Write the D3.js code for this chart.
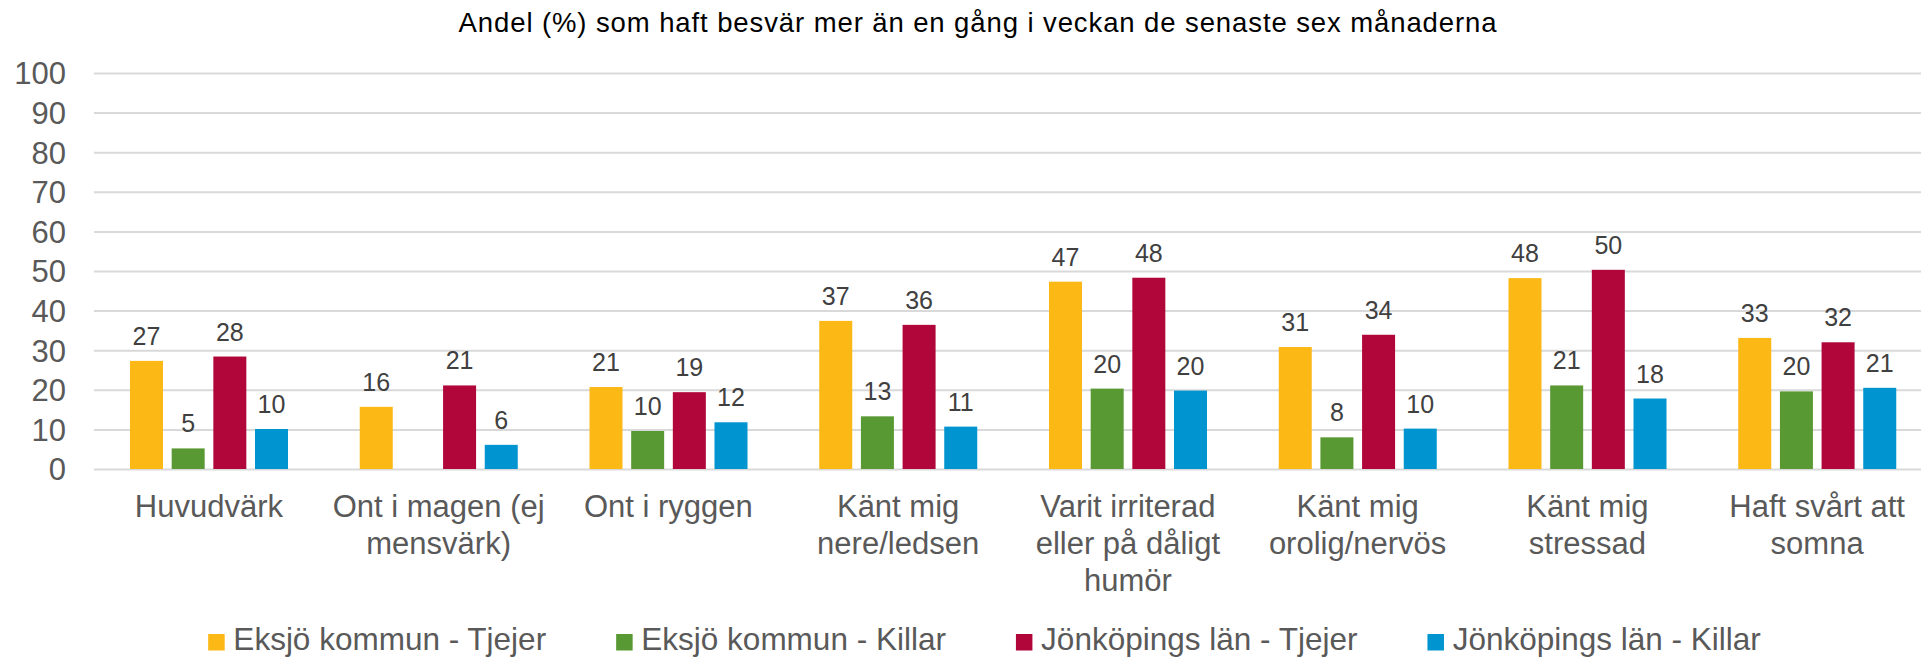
<!DOCTYPE html>
<html><head><meta charset="utf-8">
<script src="https://cdn.jsdelivr.net/npm/d3@7"></script>
<style>html,body{margin:0;padding:0;background:#fff;overflow:hidden} svg{display:block}</style>
</head><body>
<svg id="chart" width="1921" height="658"></svg>
<script>
const title = "Andel (%) som haft besvär mer än en gång i veckan de senaste sex månaderna";
const categories = ["Huvudvärk", "Ont i magen (ej\nmensvärk)", "Ont i ryggen", "Känt mig\nnere/ledsen",
  "Varit irriterad\neller på dåligt\nhumör", "Känt mig\norolig/nervös", "Känt mig\nstressad", "Haft svårt att\nsomna"];
const seriesNames = ["Eksjö kommun - Tjejer", "Eksjö kommun - Killar", "Jönköpings län - Tjejer", "Jönköpings län - Killar"];
const eksjoTjejer = [27.3, 15.7, 20.7, 37.4, 47.3, 30.8, 48.2, 33.1];
const eksjoKillar = [5.2, null, 9.6, 13.3, 20.3, 8.0, 21.1, 19.6];
const lanTjejer   = [28.4, 21.1, 19.4, 36.4, 48.3, 33.9, 50.3, 32.0];
const lanKillar   = [10.1, 6.1, 11.8, 10.7, 19.8, 10.2, 17.8, 20.5];
const yTicks = [0, 10, 20, 30, 40, 50, 60, 70, 80, 90, 100];

const seriesValues = [eksjoTjejer, eksjoKillar, lanTjejer, lanKillar];
const colors = ["#FCB814", "#599934", "#B0063A", "#0094D0"];
const FONT = "'Liberation Sans', Arial, sans-serif";

const svg = d3.select("#chart");
const plotLeft = 94, plotRight = 1932, plotTop = 73, plotBottom = 469;

const x0 = d3.scaleBand().domain(categories).range([plotLeft, plotRight]).padding(0);
const x1 = d3.scaleBand().domain(seriesNames).range([36, 194]).paddingInner(0.208);
const y = d3.scaleLinear().domain([0, 100]).range([plotBottom, plotTop]);

// Title
const t = svg.append("text").attr("x", 978).attr("y", 32).attr("text-anchor", "middle")
  .attr("font-family", FONT).attr("font-size", 27.5).attr("fill", "#000").text(title);
const natural = t.node().getComputedTextLength();
const ls = (1038 - natural) / (title.length - 1);
t.attr("letter-spacing", ls);

// Y axis with gridlines
const yAxis = d3.axisLeft(y).tickValues(yTicks).tickSize(-(plotRight - plotLeft)).tickPadding(28);
const ga = svg.append("g").attr("transform", `translate(${plotLeft},0)`).call(yAxis);
ga.select(".domain").remove();
ga.selectAll(".tick line").attr("stroke", "#D9D9D9").attr("stroke-width", 2);
ga.selectAll(".tick text").attr("font-family", FONT).attr("font-size", 31).attr("fill", "#595959")
  .attr("dy", "0.35em");

// Bars
const data = [];
categories.forEach((c, i) => seriesNames.forEach((s, j) => {
  const v = seriesValues[j][i];
  if (v != null) data.push({c, s, v, j});
}));
svg.append("g").selectAll("rect").data(data).join("rect")
  .attr("x", d => x0(d.c) + x1(d.s))
  .attr("y", d => y(d.v))
  .attr("width", x1.bandwidth())
  .attr("height", d => y(0) - y(d.v))
  .attr("fill", d => colors[d.j]);

// Data labels
svg.append("g").selectAll("text").data(data).join("text")
  .attr("x", d => x0(d.c) + x1(d.s) + x1.bandwidth() / 2)
  .attr("y", d => y(d.v) - 16)
  .attr("text-anchor", "middle")
  .attr("font-family", FONT).attr("font-size", 25).attr("fill", "#404040")
  .text(d => d3.format(".0f")(d.v));

// Category labels
const cg = svg.append("g");
categories.forEach(c => {
  const txt = cg.append("text").attr("text-anchor", "middle")
    .attr("font-family", FONT).attr("font-size", 31).attr("fill", "#595959");
  c.split("\n").forEach((line, k) => {
    txt.append("tspan").attr("x", x0(c) + x0.bandwidth() / 2).attr("y", 517 + k * 37).text(line);
  });
});

// Legend
const lg = svg.append("g");
const sq = 16.5, gapSq = 8.7, gapItem = 70;
const items = seriesNames.map((s, j) => {
  const g = lg.append("g");
  g.append("rect").attr("width", sq).attr("height", sq).attr("y", 634).attr("fill", colors[j]);
  const tx = g.append("text").attr("x", sq + gapSq).attr("y", 650)
    .attr("font-family", FONT).attr("font-size", 31.5).attr("fill", "#595959").text(s);
  return {g, w: sq + gapSq + tx.node().getComputedTextLength()};
});
const total = d3.sum(items, d => d.w) + gapItem * (items.length - 1);
let cx = 984.5 - total / 2;
items.forEach(it => { it.g.attr("transform", `translate(${cx},0)`); cx += it.w + gapItem; });
</script>
</body></html>
